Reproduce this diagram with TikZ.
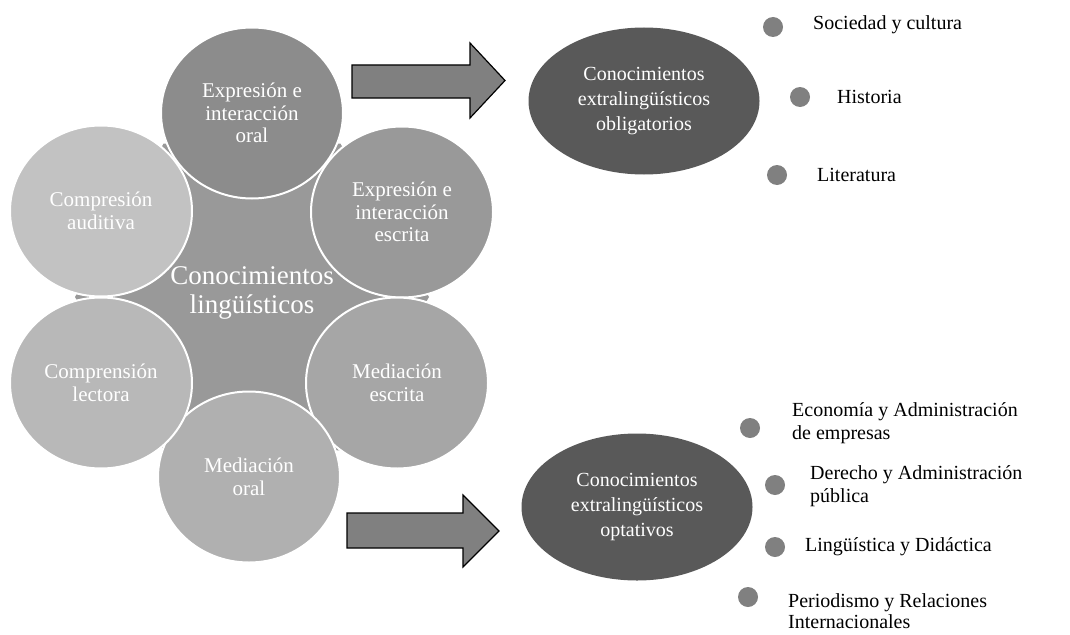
\documentclass[tikz,border=0pt]{standalone}
\usepackage{fontspec}
\setmainfont{Liberation Serif}
\usetikzlibrary{positioning, shapes.geometric}

\begin{document}
\begin{tikzpicture}[
    x=1pt, y=-1pt,
    every node/.style={align=center, font=\fontsize{20}{22.5}\selectfont},
    petal/.style={ellipse, minimum width=182pt, minimum height=171pt, draw=white, line width=2pt, text=white, font=\fontsize{21}{22.5}\selectfont},
    topic/.style={ellipse, minimum width=231pt, minimum height=147pt, fill=black!65, text=white, font=\fontsize{20}{25}\selectfont},
    blockarrow/.style={draw=black, line width=1.2pt, fill=black!50, line join=miter},
    dot/.style={circle, fill=black!50, minimum size=20pt, inner sep=0pt},
    item/.style={anchor=west, align=left, inner sep=0pt}]

    \useasboundingbox (0,0) rectangle (1070,634);

    % hexagon behind the six circles
    \node[regular polygon, regular polygon sides=6, minimum size=354pt, inner sep=0pt, fill=black!40] (hub) at (252,297) {};

    \node[petal, fill=black!45] (oralexp) at (252,113) {Expresión e\\interacción\\oral};
    \node[petal, fill=black!40] (writexp) at (402,212) {Expresión e\\interacción\\escrita};
    \node[petal, fill=black!35] (writmed) at (397,383) {Mediación\\escrita};
    \node[petal, fill=black!31] (oralmed) at (249,477) {Mediación\\oral};
    \node[petal, fill=black!28] (readcomp) at (101,383) {Comprensión\\lectora};
    \node[petal, fill=black!24] (listcomp) at (101,211) {Compresión\\auditiva};

    \node[text=white, font=\fontsize{27}{29}\selectfont] (hubtext) at (252,293) {Conocimientos\\lingüísticos};

    % the two block arrows
    \draw[blockarrow] (352,65) -- (470,65) -- (470,43) -- (505,80.5) -- (470,118) -- (470,98) -- (352,98) -- cycle;
    \draw[blockarrow] (347,513) -- (463,513) -- (463,495) -- (499,531) -- (463,567) -- (463,548) -- (347,548) -- cycle;

    \node[topic] (oblig) at (644,101) {Conocimientos\\extralingüísticos\\obligatorios};
    \node[topic] (optat) at (637,507) {Conocimientos\\extralingüísticos\\optativos};

    % compulsory subjects
    \node[dot] (d1) at (773,27) {};
    \node[item] (i1) at (813,25) {Sociedad y cultura};
    \node[dot] (d2) at (800,97) {};
    \node[item] (i2) at (837,97) {Historia};
    \node[dot] (d3) at (777,175) {};
    \node[item] (i3) at (817,175) {Literatura};

    % optional subjects
    \node[dot] (d4) at (750,428) {};
    \node[item] (i4) at (792,423) {Economía y Administración\\de empresas};
    \node[dot] (d5) at (775,485) {};
    \node[item] (i5) at (810,486) {Derecho y Administración\\pública};
    \node[dot] (d6) at (775,547) {};
    \node[item] (i6) at (805,547) {Lingüística y Didáctica};
    \node[dot] (d7) at (748,597) {};
    \node[item, font=\fontsize{20}{21}\selectfont] (i7) at (788,611) {Periodismo y Relaciones\\Internacionales};

\end{tikzpicture}
\end{document}
